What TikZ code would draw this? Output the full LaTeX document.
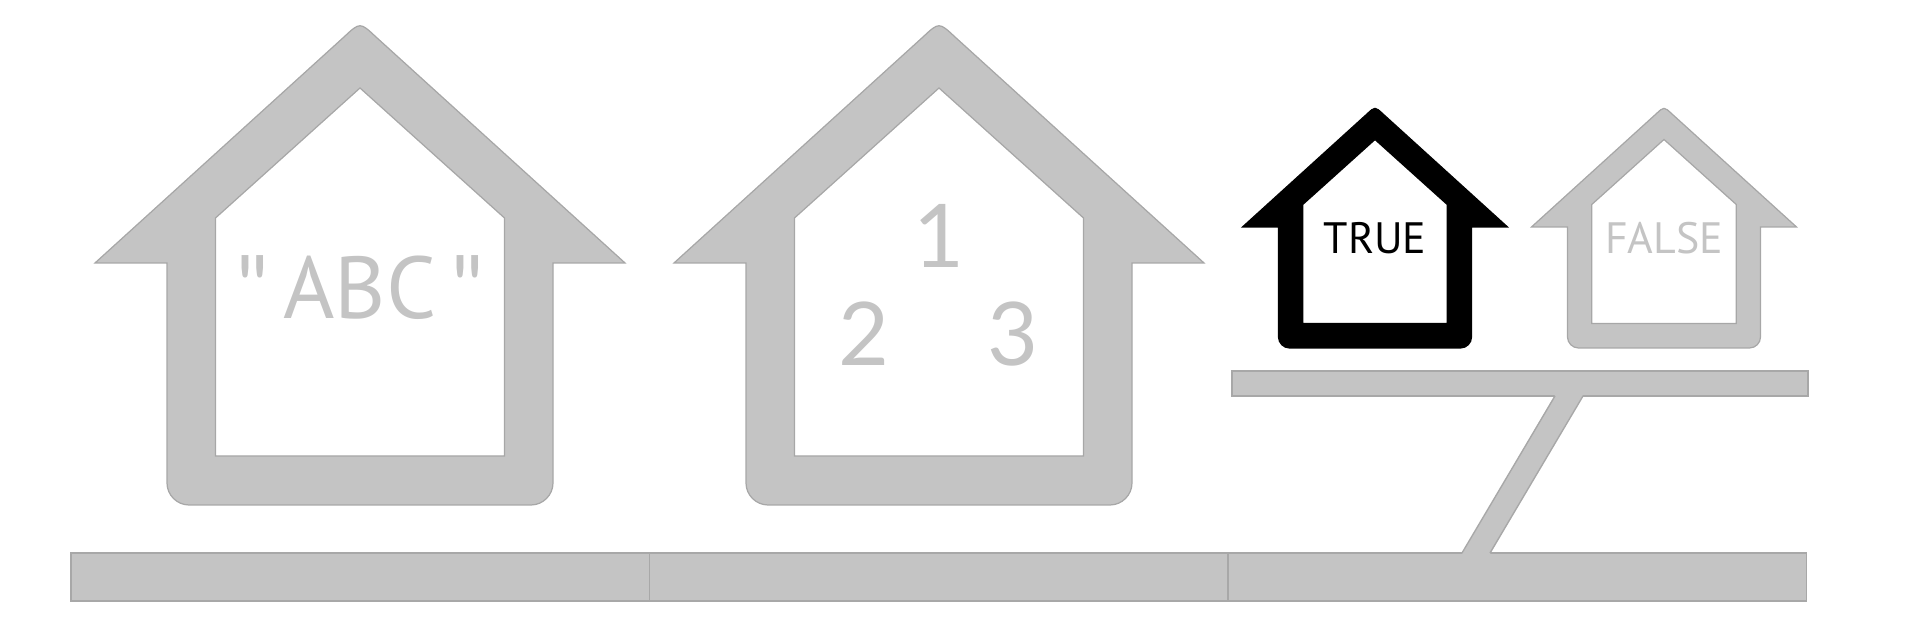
\documentclass[tikz,border=0pt]{standalone}
\usepackage{fontspec}
\setmainfont{PT Sans}[Ligatures=TeXOff]
\newfontfamily\digitfont{Lato}[Ligatures=TeXOff]
\definecolor{boxgray}{HTML}{C4C4C4}
\definecolor{edgegray}{HTML}{A8A8A8}

\begin{document}
\begin{tikzpicture}[x=0.1mm, y=-0.1mm,
  housepath/.style={even odd rule, line width=0.35pt},
  pics/home/.style={code={
    \filldraw[housepath, fill=#1, draw=#1!85!black]
      (-265,-242) -- (-193,-242) -- (-193,-22) .. controls (-193,-10) and (-183,0) .. (-171,0)
      -- (171,0) .. controls (183,0) and (193,-10) .. (193,-22) -- (193,-242) -- (265,-242)
      -- (16,-468) .. controls (0,-483) .. (-16,-468) -- cycle
      (-144.5,-49) -- (144.5,-49) -- (144.5,-287) -- (0,-417) -- (-144.5,-287) -- cycle;
  }},
  plank/.style={fill=boxgray, draw=edgegray, line width=0.4pt},
  bigtext/.style={font=\fontsize{25}{30}\selectfont, text=boxgray, inner sep=0pt, anchor=base},
  digit/.style={bigtext, font=\digitfont\fontsize{25}{30}\selectfont},
  smalltext/.style={font=\fontsize{12.5}{15}\selectfont, inner sep=0pt, anchor=base}]
\useasboundingbox (0,0) rectangle (1920,630);
% ground
\foreach \x in {71,649.5,1228} \draw[plank] (\x,553) rectangle ++(578.5,48);
% shelf and its stand
\draw[plank] (1232,371) rectangle (1808,396);
\fill[boxgray] (1555,395) -- (1583,395) -- (1490,554) -- (1462,554) -- cycle;
\draw[edgegray, line width=0.4pt] (1555,396) -- (1462,553) (1583,396) -- (1490,553);
% houses
\pic at (360,505) {home=boxgray};
\pic at (939,505) {home=boxgray};
\pic[scale=0.5] at (1375,348) {home=black};
\pic[scale=0.5] at (1664,348) {home=boxgray};
% contents
\node[bigtext] (abc) at (360,319) {{\digitfont"}\,ABC\,{\digitfont"}};
\node[digit] (one) at (939,268) {1};
\node[digit] (two) at (864,366) {2};
\node[digit] (three) at (1013,366) {3};
\node[smalltext] (true) at (1375,254) {TRUE};
\node[smalltext, text=boxgray] (false) at (1664,254) {FALSE};
\end{tikzpicture}
\end{document}
